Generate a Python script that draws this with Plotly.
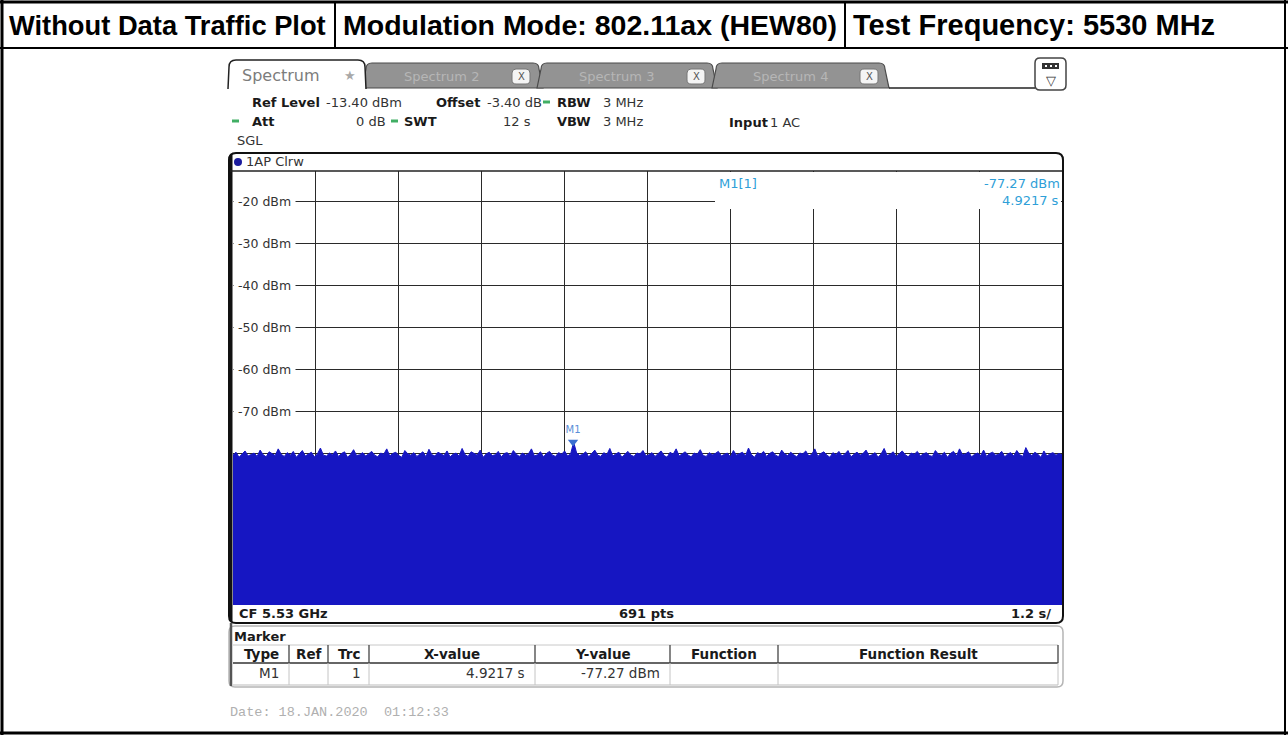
import plotly.graph_objects as go

W, H = 1288, 735

# ---------------- data ----------------
title_cells = ["Without Data Traffic Plot", "Modulation Mode: 802.11ax (HEW80)", "Test Frequency: 5530 MHz"]
sweep_time_s = 12.0
trace_points = 691
time_grid_s = [1.2, 2.4, 3.6, 4.8, 6.0, 7.2, 8.4, 9.6, 10.8]
level_ticks = [-20, -30, -40, -50, -60, -70]
level_tick_labels = ["-20 dBm", "-30 dBm", "-40 dBm", "-50 dBm", "-60 dBm", "-70 dBm"]
grid_levels = [-20, -30, -40, -50, -60, -70, -80, -90, -100, -110]
trace_dbm = [
    -80.4, -79.7, -80.9, -80.1, -79.4, -80.6, -80.2, -79.9, -80.7, -79.2, -80.3, -80.8, -79.6, -80.1, -80.5, -78.9, -80.2, -80.7, -79.8, -80.4, -79.5, -80.9, -80.0,
    -79.3, -80.6, -80.2, -79.7, -80.8, -80.1, -78.7, -80.4, -80.6, -79.9, -80.3, -79.4, -80.7, -80.0, -79.6, -80.9, -80.2, -79.1, -80.5, -80.3, -79.8, -80.6, -80.1,
    -79.5, -80.4, -80.8, -79.9, -80.2, -78.9, -80.6, -80.0, -79.7, -80.5, -80.9, -79.3, -80.1, -80.4, -79.8, -80.7, -80.2, -79.6, -80.8, -79.0, -80.3, -80.6, -79.7,
    -80.1, -80.5, -79.4, -80.8, -80.2, -79.9, -80.6, -78.8, -80.3, -80.7, -79.6, -80.0, -80.4, -79.2, -80.9, -80.1, -79.7, -80.5, -80.3, -79.5, -80.8, -80.0, -79.8,
    -80.6, -79.3, -80.2, -80.7, -79.9, -80.4, -80.1, -78.9, -80.6, -80.3, -79.6, -80.8, -80.0, -79.5, -80.4, -80.7, -79.8, -80.2, -79.4, -80.6, -80.1, -77.3, -79.9,
    -80.5, -80.2, -79.6, -80.8, -80.0, -79.2, -80.4, -80.7, -79.8, -80.3, -78.8, -80.6, -80.1, -79.7, -80.9, -80.2, -79.5, -80.4, -80.7, -79.9, -80.1, -79.3, -80.6,
    -80.3, -79.8, -80.7, -80.0, -79.4, -80.5, -80.9, -79.7, -80.2, -78.9, -80.6, -80.1, -79.6, -80.4, -80.8, -79.9, -80.2, -79.1, -80.5, -80.7, -79.8, -80.3, -80.0,
    -79.5, -80.6, -80.2, -79.9, -80.8, -79.3, -80.4, -80.1, -79.7, -80.6, -78.7, -80.3, -80.9, -79.8, -80.2, -79.5, -80.7, -80.0, -79.6, -80.4, -80.8, -79.2, -80.1,
    -80.5, -79.7, -80.3, -80.8, -79.9, -80.1, -79.4, -80.6, -80.2, -78.9, -80.7, -80.0, -79.6, -80.4, -80.9, -79.8, -80.3, -79.5, -80.6, -80.1, -79.3, -80.8, -80.2,
    -79.7, -80.4, -80.0, -79.2, -80.6, -80.3, -79.8, -80.9, -80.1, -78.8, -80.5, -80.2, -79.6, -80.7, -80.0, -79.4, -80.3, -80.8, -79.9, -80.2, -79.5, -80.6, -80.1,
    -79.8, -80.5, -80.7, -79.3, -80.2, -80.4, -79.7, -80.9, -80.0, -79.5, -80.6, -78.9, -80.3, -80.1, -79.6, -80.8, -80.2, -79.9, -80.5, -79.2, -80.7, -80.0, -79.7,
    -80.4, -80.2, -79.5, -80.8, -80.1, -79.8, -80.6, -79.3, -80.3, -80.7, -78.6, -80.0, -80.5, -79.7, -80.2, -80.9, -79.4, -80.6, -80.1, -79.8, -80.4, -80.0, -80.3,
]
marker_name = "M1"
marker_time_s = 4.9217
marker_level_dbm = -77.27
table_headers = ["Type", "Ref", "Trc", "X-value", "Y-value", "Function", "Function Result"]
table_row = ["M1", "", "1", "4.9217 s", "-77.27 dBm", "", ""]
date_text = "Date: 18.JAN.2020  01:12:33"

# ---------------- layout helpers ----------------
Y_TOP, Y_BOTTOM = -12.7, -116.1
F = "DejaVu Sans"
BLUE = "#1616c2"
MK = "#2f9fd8"


def X(px):
    return px / W


def Y(py):
    return 1 - py / H


def P(x, y):
    return f"{X(x):.5f},{Y(y):.5f}"


shapes = []
ann = []


def line(x0, y0, x1, y1, color="#000", width=1.0, layer="above"):
    shapes.append(dict(type="line", xref="paper", yref="paper", x0=X(x0), y0=Y(y0), x1=X(x1), y1=Y(y1),
                       line=dict(color=color, width=width), layer=layer))


def rect(x0, y0, x1, y1, fill, lc=None, lw=0, layer="above"):
    shapes.append(dict(type="rect", xref="paper", yref="paper", x0=X(x0), y0=Y(y0), x1=X(x1), y1=Y(y1),
                       fillcolor=fill, line=dict(color=lc or fill, width=lw), layer=layer))


def path(d, fill="rgba(0,0,0,0)", lc="#000", lw=1.0):
    shapes.append(dict(type="path", xref="paper", yref="paper", path=d, fillcolor=fill,
                       line=dict(color=lc, width=lw), layer="above"))


def rr(x0, y0, x1, y1, r):
    return (f"M {P(x0 + r, y0)} L {P(x1 - r, y0)} Q {P(x1, y0)} {P(x1, y0 + r)} L {P(x1, y1 - r)} "
            f"Q {P(x1, y1)} {P(x1 - r, y1)} L {P(x0 + r, y1)} Q {P(x0, y1)} {P(x0, y1 - r)} "
            f"L {P(x0, y0 + r)} Q {P(x0, y0)} {P(x0 + r, y0)} Z")


def tab(xl, xr, yt, yb, s=4, r=6, close=True):
    d = (f"M {P(xl, yb)} L {P(xl + s, yt + r)} Q {P(xl + s, yt)} {P(xl + s + r, yt)} "
         f"L {P(xr - s - r, yt)} Q {P(xr - s, yt)} {P(xr - s, yt + r)} L {P(xr, yb)}")
    return d + (" Z" if close else "")


def txt(x, y, s, size=13, color="#1a1a1a", bold=False, anchor="left", family=F):
    ann.append(dict(x=X(x), y=Y(y), xref="paper", yref="paper", text=f"<b>{s}</b>" if bold else s,
                    showarrow=False, xanchor=anchor, yanchor="middle",
                    font=dict(family=family, size=size, color=color)))


# ---------------- outer table ----------------
line(0, 2, W, 2, width=3)
line(0, 48, W, 48, width=2)
line(2, 0, 2, H, width=3)
line(1285, 0, 1285, H, width=2)
line(0, 733, W, 733, width=3)
line(335, 2, 335, 48, width=2)
line(845, 2, 845, 48, width=2)
TF = "Liberation Sans"
txt(7, 25, title_cells[0], size=27.3, color="#000", bold=True, family=TF)
txt(341, 25, title_cells[1], size=28.5, color="#000", bold=True, family=TF)
txt(851, 25, title_cells[2], size=29, color="#000", bold=True, family=TF)

# ---------------- tabs ----------------
for xl, xr, name, xb in [(362, 543, "Spectrum 2", 512), (537, 717, "Spectrum 3", 687), (712, 889, "Spectrum 4", 860)]:
    path(tab(xl, xr, 63, 88), fill="#939393", lc="#4a4a4a", lw=1.2)
    txt((xl + xb) / 2 + 4, 77, name, size=13, color="#b6b6b6", anchor="center")
    path(rr(xb, 69, xb + 18, 84, 4), fill="#f4f4f4", lc="#777", lw=1)
    txt(xb + 9, 77, "X", size=10, color="#555", anchor="center")
path(tab(228, 366, 60, 89, s=1, r=7), fill="#ffffff", lc="#ffffff", lw=0)
path(tab(228, 366, 60, 89, s=1, r=7, close=False), lc="#222", lw=1.5)
txt(240, 76, "Spectrum", size=16, color="#7c7c7c")
txt(350, 76, "★", size=13, color="#a8a8a8", anchor="center")
line(889, 88, 1035, 88, color="#222", width=1.5)
# settings icon
path(rr(1035, 58, 1066, 90, 5), fill="#ffffff", lc="#444", lw=1.5)
rect(1042, 63, 1059, 69, "#333")
for dx in (1045, 1050, 1055):
    rect(dx, 65, dx + 2, 67, "#ffffff")
txt(1050.5, 80, "▽", size=13, color="#333", anchor="center")

# ---------------- info lines ----------------
GREEN = "#41ae64"
R1, R2, R3 = 102, 121, 140
txt(250, R1, "Ref Level", bold=True)
txt(324, R1, "-13.40 dBm", color="#333")
txt(434, R1, "Offset", bold=True)
txt(485, R1, "-3.40 dB", color="#333")
rect(543, R1 - 1.5, 550, R1 + 1.5, GREEN)
txt(555, R1, "RBW", bold=True)
txt(601, R1, "3 MHz", color="#333")
rect(232, R2 - 1.5, 239, R2 + 1.5, GREEN)
txt(250, R2, "Att", bold=True)
txt(388, R2, "0 dB", color="#333", anchor="right")
rect(391, R2 - 1.5, 398, R2 + 1.5, GREEN)
txt(402, R2, "SWT", bold=True)
txt(533, R2, "12 s", color="#333", anchor="right")
txt(555, R2, "VBW", bold=True)
txt(601, R2, "3 MHz", color="#333")
txt(727, R2 + 1, "Input", bold=True)
txt(768, R2 + 1, "1 AC", color="#333")
txt(235, R3, "SGL", color="#333")

# ---------------- spectrum frame ----------------
path(rr(229, 153, 1063, 623, 7), lc="#111", lw=2)
line(231, 155, 231, 621, color="#111", width=3)
line(230, 171, 1062, 171, color="#222", width=1.5)
shapes.append(dict(type="circle", xref="paper", yref="paper", x0=X(234), y0=Y(166), x1=X(242), y1=Y(158),
                   fillcolor="#1c1c9e", line=dict(color="#1c1c9e", width=0), layer="above"))
txt(244, 162, "1AP Clrw", color="#333")
# marker info mask
rect(715, 172, 1061, 209, "#ffffff")
txt(717, 184, "M1[1]", color=MK)
txt(1062, 184, f"{marker_level_dbm:.2f} dBm", color=MK, anchor="right")
txt(1061, 201, f"{marker_time_s:.4f} s", color=MK, anchor="right")
# level labels
for lv, lab in zip(level_ticks, level_tick_labels):
    ann.append(dict(x=X(233), y=lv, xref="paper", yref="y", text=lab, showarrow=False, xanchor="left",
                    yanchor="middle", bgcolor="#ffffff", borderpad=4,
                    font=dict(family=F, size=12.5, color="#333")))
# bottom bar
txt(237, 613, "CF 5.53 GHz", size=13, bold=True)
txt(646, 613, f"{trace_points} pts", size=13, bold=True, anchor="center")
txt(1053, 613, "1.2 s/", size=13, bold=True, anchor="right")

# ---------------- marker table ----------------
path(rr(229, 626, 1063, 687, 6), lc="#b5b5b5", lw=1.5)
line(231, 623, 231, 686, color="#555", width=2.5)
txt(232, 636, "Marker", size=13, bold=True)
cols = [233, 289, 328, 369, 535, 670, 778, 1058]
line(233, 645, 1058, 645, color="#c8c8c8", width=1)
line(233, 663, 1058, 663, color="#333", width=1.5)
line(233, 685, 1058, 685, color="#bbbbbb", width=1.2)
for cx in cols[1:]:
    line(cx, 645, cx, 663, color="#444", width=1.3)
    line(cx, 663, cx, 685, color="#c4c4c4", width=1)
for i, h in enumerate(table_headers):
    txt((cols[i] + cols[i + 1]) / 2, 654, h, size=13.5, bold=True, anchor="center")
right_pad = [8, 6, 6, 8, 8, 8, 8]
for i, v in enumerate(table_row):
    if v:
        txt(cols[i + 1] - right_pad[i], 673, v, size=13.5, color="#333", anchor="right")

txt(228, 712, date_text, size=13.5, color="#b0b0b0", family="Liberation Mono")

# ---------------- traces ----------------
n = len(trace_dbm)
times = [i * sweep_time_s / (n - 1) for i in range(n)]
fig = go.Figure()
fig.add_trace(go.Scatter(x=times, y=[Y_BOTTOM] * n, mode="lines", line=dict(width=0, color=BLUE),
                         hoverinfo="skip"))
fig.add_trace(go.Scatter(x=times, y=trace_dbm, mode="lines", line=dict(width=1, color=BLUE),
                         fill="tonexty", fillcolor=BLUE, name="1AP Clrw"))
fig.add_trace(go.Scatter(x=[marker_time_s], y=[marker_level_dbm], mode="markers+text",
                         marker=dict(symbol="triangle-down", size=9, color="#3a6fd0"),
                         text=[marker_name], textposition="top center",
                         textfont=dict(family=F, size=10, color="#5b8fd8")))

fig.update_layout(
    width=W, height=H, margin=dict(l=0, r=0, t=0, b=0),
    paper_bgcolor="#ffffff", plot_bgcolor="#ffffff", showlegend=False,
    xaxis=dict(domain=[X(233), X(1062)], range=[0, sweep_time_s], tickvals=time_grid_s,
               showticklabels=False, ticks="", showgrid=True, gridcolor="#2a2a2a", gridwidth=1.2,
               zeroline=False, showline=False, fixedrange=True),
    yaxis=dict(domain=[Y(605), Y(171)], range=[Y_BOTTOM, Y_TOP], tickvals=grid_levels,
               showticklabels=False, ticks="", showgrid=True, gridcolor="#2a2a2a", gridwidth=1.2,
               zeroline=False, showline=False, fixedrange=True),
    shapes=shapes, annotations=ann,
)
fig.write_html("out.html", config={"displayModeBar": False},
               post_script="document.body.style.margin='0';document.body.style.overflow='hidden';")
